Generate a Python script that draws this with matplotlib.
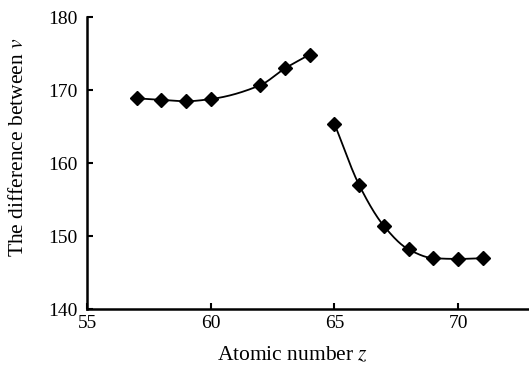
import numpy as np
import matplotlib
matplotlib.use("Agg")
import matplotlib.pyplot as plt

plt.rcParams['font.family'] = ['Liberation Serif', 'DejaVu Serif']
plt.rcParams['mathtext.fontset'] = 'stix'

z1 = [57, 58, 59, 60, 62, 63, 64]
v1 = [168.9, 168.7, 168.5, 168.8, 170.7, 173.0, 174.9]
z2 = [65, 66, 67, 68, 69, 70, 71]
v2 = [165.4, 157.0, 151.4, 148.2, 147.0, 146.9, 147.0]
xticks = [55, 60, 65, 70]
yticks = [140, 150, 160, 170, 180]


def pchip(x, y, n=200):
    x = np.asarray(x, float); y = np.asarray(y, float)
    h = np.diff(x); d = np.diff(y) / h
    m = np.zeros_like(y)
    for k in range(1, len(x) - 1):
        if d[k - 1] * d[k] <= 0:
            m[k] = 0
        else:
            w1 = 2 * h[k] + h[k - 1]; w2 = h[k] + 2 * h[k - 1]
            m[k] = (w1 + w2) / (w1 / d[k - 1] + w2 / d[k])
    m[0] = d[0]; m[-1] = d[-1]
    xs = np.linspace(x[0], x[-1], n)
    idx = np.clip(np.searchsorted(x, xs) - 1, 0, len(x) - 2)
    t = (xs - x[idx]) / h[idx]
    h00 = 2 * t**3 - 3 * t**2 + 1; h10 = t**3 - 2 * t**2 + t
    h01 = -2 * t**3 + 3 * t**2; h11 = t**3 - t**2
    ys = h00 * y[idx] + h10 * h[idx] * m[idx] + h01 * y[idx + 1] + h11 * h[idx] * m[idx + 1]
    return xs, ys


fig = plt.figure(figsize=(5.29, 3.65), dpi=100)
ax = fig.add_axes([0.1645, 0.1526, 0.8355, 0.8])

for zz, vv in [(z1, v1), (z2, v2)]:
    xs, ys = pchip(zz, vv)
    ax.plot(xs, ys, color='black', lw=1.3)
    ax.plot(zz, vv, linestyle='none', marker='D', color='black', ms=7)

ax.set_xlim(55, 72.86)
ax.set_ylim(140, 180)
ax.set_xticks(xticks)
ax.set_yticks(yticks)
for s in ['top', 'right']:
    ax.spines[s].set_visible(False)
for s in ['left', 'bottom']:
    ax.spines[s].set_linewidth(1.8)
ax.tick_params(direction='in', length=4, width=1.5, labelsize=14)
ax.tick_params(axis='y', pad=7)
ax.tick_params(axis='x', pad=4)
ax.set_xlabel('Atomic number $z$', fontsize=15.5)
ax.set_ylabel('The difference between $v$', fontsize=15.5)
ax.xaxis.set_label_coords(0.466, -0.125)
ax.yaxis.set_label_coords(-0.134, 0.554)

fig.savefig('out.png', dpi=100)
